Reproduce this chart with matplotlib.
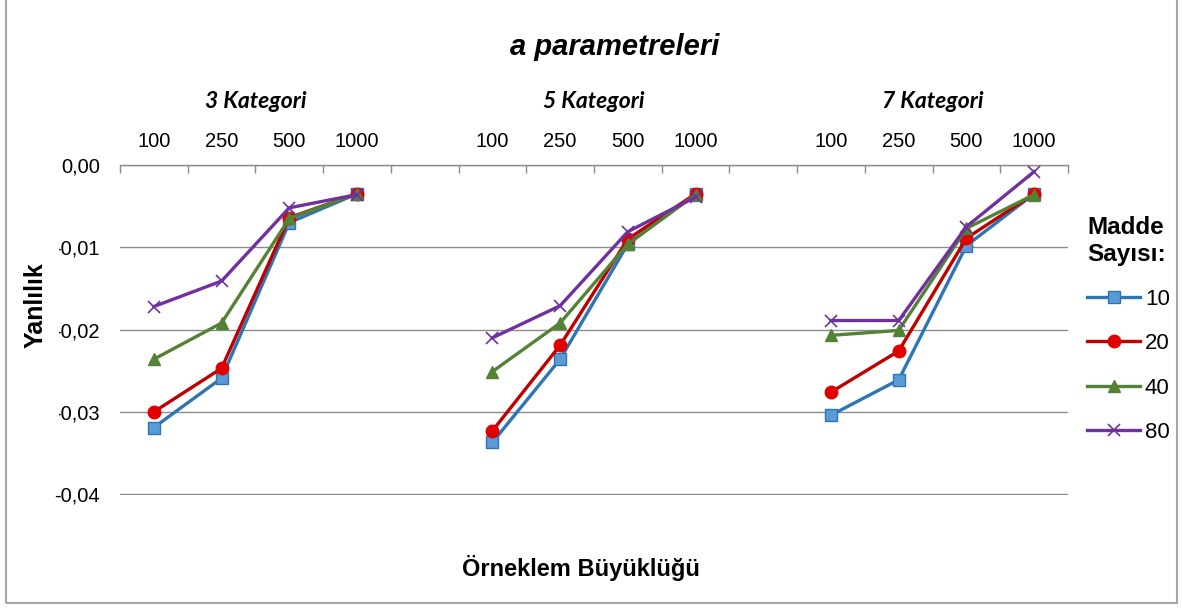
import numpy as np
import matplotlib
matplotlib.use('Agg')
import matplotlib.pyplot as plt
from matplotlib.patches import Rectangle
from matplotlib.lines import Line2D
from matplotlib.transforms import blended_transform_factory

plt.rcParams['font.family'] = ['Liberation Sans', 'DejaVu Sans']

# data
groups = ['3 Kategori', '5 Kategori', '7 Kategori']
sizes = ['100', '250', '500', '1000']
madde = ['10', '20', '40', '80']
madde_10 = [-0.0319, -0.0259, -0.0070, -0.0035, -0.0337, -0.0236, -0.0096, -0.0035, -0.0304, -0.0261, -0.0098, -0.0035]
madde_20 = [-0.0300, -0.0247, -0.0064, -0.0035, -0.0323, -0.0219, -0.0090, -0.0035, -0.0276, -0.0226, -0.0089, -0.0035]
madde_40 = [-0.0236, -0.0192, -0.0065, -0.0035, -0.0251, -0.0192, -0.0096, -0.0036, -0.0207, -0.0201, -0.0077, -0.0036]
madde_80 = [-0.0172, -0.0141, -0.0052, -0.0036, -0.0210, -0.0171, -0.0081, -0.0039, -0.0189, -0.0189, -0.0075, -0.0008]
yticks = [0.0, -0.01, -0.02, -0.03, -0.04]

series = [madde_10, madde_20, madde_40, madde_80]
styles = [
    dict(color='#2e75b6', marker='s', markersize=8, markerfacecolor='#5b9bd5', markeredgecolor='#2e75b6'),
    dict(color='#c00000', marker='o', markersize=9, markerfacecolor='#e00000', markeredgecolor='#e00000'),
    dict(color='#548235', marker='^', markersize=9, markerfacecolor='#548235', markeredgecolor='#548235'),
    dict(color='#7030a0', marker='x', markersize=9, markeredgewidth=1.2, markeredgecolor='#7030a0'),
]

W, H = 1182, 608
fig = plt.figure(figsize=(W / 100, H / 100), dpi=100)
ax = fig.add_axes([120 / W, 1 - 495 / H, (1068 - 120) / W, (495 - 165) / H])

n = len(sizes)
slot = n + 1
for vals, st in zip(series, styles):
    for g in range(len(groups)):
        xs = np.arange(n) + g * slot
        ax.plot(xs, vals[g * n:(g + 1) * n], linewidth=2.4, zorder=3, **st)

nslots = len(groups) * slot - 1
ax.set_xlim(-0.5, nslots - 0.5)
ax.set_ylim(-0.0401, 0.0)

# category axis on top
ax.xaxis.tick_top()
centers = [g * slot + i for g in range(len(groups)) for i in range(n)]
ax.set_xticks(centers)
ax.set_xticklabels(sizes * len(groups), fontsize=14.5)
ax.tick_params(axis='x', which='major', length=0, pad=10)
ax.set_xticks(np.arange(nslots + 1) - 0.5, minor=True)
ax.tick_params(axis='x', which='minor', direction='in', length=6, color='#8c8c8c', width=1, top=True, bottom=False)

ax.set_yticks(yticks)
ax.set_yticklabels([('%.2f' % v if v == 0 else '-%.2f' % abs(v)).replace('.', ',') for v in yticks],
                   fontsize=14.5)
ax.tick_params(axis='y', length=0, pad=14.5)
ax.grid(axis='y', color='#8c8c8c', linewidth=1)

for s in ['left', 'right', 'bottom']:
    ax.spines[s].set_visible(False)
ax.spines['top'].set_color('#8c8c8c')
ax.spines['top'].set_linewidth(1)

# group headers
tr = blended_transform_factory(ax.transData, fig.transFigure)
for g, name in enumerate(groups):
    ax.text(g * slot + (n - 1) / 2, 1 - 101 / H, name, transform=tr, ha='center', va='center',
            fontsize=16.5, fontweight='bold', style='italic', family=['Lato', 'DejaVu Sans'])

fig.text(615 / W, 1 - 47 / H, 'a parametreleri', ha='center', va='center',
         fontsize=21, fontweight='bold', style='italic')
fig.text(581 / W, 1 - 568 / H, 'Örneklem Büyüklüğü', ha='center', va='center',
         fontsize=17, fontweight='bold')

# y-axis title box (covers the minus signs like the original)
fig.patches.append(Rectangle((18 / W, 1 - 424 / H), 41 / W, 186 / H, transform=fig.transFigure,
                             facecolor='white', edgecolor='none', zorder=2))
fig.text(36 / W, 1 - 305 / H, 'Yanlılık', rotation=90, ha='center', va='center',
         fontsize=18, fontweight='bold', zorder=3)

handles = [Line2D([], [], linewidth=2.4, **st) for st in styles]
leg = ax.legend(handles, madde, title='Madde\nSayısı:', loc='upper left',
                bbox_to_anchor=(1087 / W, 1 - 216 / H), bbox_transform=fig.transFigure,
                frameon=False, fontsize=16, handlelength=2.4, handletextpad=0.2,
                labelspacing=1.05, alignment='left', borderpad=0, borderaxespad=0)
leg.get_title().set_fontweight('bold')
leg.get_title().set_fontsize(17.5)

# chart border
fig.patches.append(Rectangle((6 / W, 5 / H), 1171 / W, 1.0, transform=fig.transFigure,
                             fill=False, edgecolor='#a6a6a6', linewidth=1.5, zorder=1))

fig.savefig('out.png', dpi=100)
